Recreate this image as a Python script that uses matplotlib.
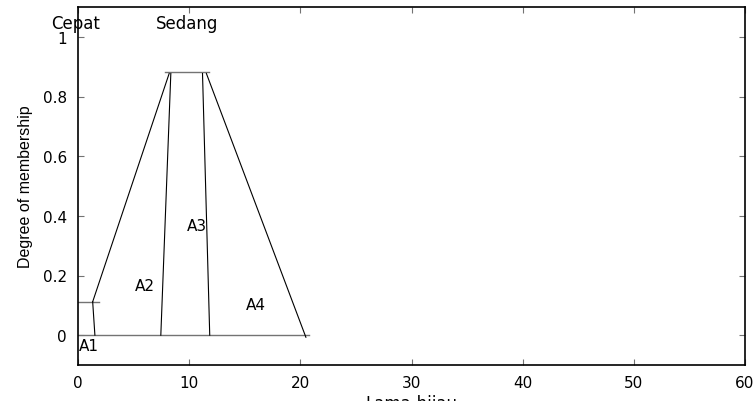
import matplotlib
matplotlib.use("Agg")
import matplotlib.pyplot as plt

# membership-function edges (x in Lama-hijau, y in degree)
top_x = [7.8, 11.8]
top_y = [0.883, 0.883]
base_x = [0.0, 20.8]
base_y = [0.0, 0.0]
a1_step_x = [0.0, 1.9]
a1_step_y = [0.112, 0.112]
a1_x = [1.32, 1.52]
a1_y = [0.112, 0.0]
left_x = [1.32, 8.2]
left_y = [0.112, 0.877]
a2_x = [7.45, 8.35]
a2_y = [0.0, 0.877]
a3_x = [11.85, 11.2]
a3_y = [0.0, 0.877]
right_x = [11.55, 20.5]
right_y = [0.877, -0.007]

region_labels = ["A1", "A2", "A3", "A4"]
region_x = [1.0, 6.0, 10.7, 16.0]
region_y = [-0.035, 0.168, 0.366, 0.104]

set_labels = ["Cepat", "Sedang"]
set_x = [-0.2, 9.8]
set_y = [1.045, 1.045]

x_ticks = [0, 10, 20, 30, 40, 50, 60]
y_ticks = [0, 0.2, 0.4, 0.6, 0.8, 1]
y_ticklabels = ["0", "0.2", "0.4", "0.6", "0.8", "1"]

plt.rcParams['font.family'] = ['DejaVu Sans']

fig = plt.figure(figsize=(7.54, 4.02), dpi=100)
ax = fig.add_axes([78 / 754, 36 / 402, 667 / 754, 358 / 402])

grey = '0.45'
for xs, ys in [(top_x, top_y), (base_x, base_y), (a1_step_x, a1_step_y)]:
    ax.plot(xs, ys, color=grey, lw=1.0)
for xs, ys in [(a1_x, a1_y), (left_x, left_y), (a2_x, a2_y), (a3_x, a3_y), (right_x, right_y)]:
    ax.plot(xs, ys, color='k', lw=0.8)

for t, x, y in zip(region_labels, region_x, region_y):
    ax.text(x, y, t, ha='center', va='center', fontsize=11)
for t, x, y in zip(set_labels, set_x, set_y):
    ax.text(x, y, t, ha='center', va='center', fontsize=12, clip_on=False)

ax.set_xlim(0, 60)
ax.set_ylim(-0.1, 1.1)
ax.set_xticks(x_ticks)
ax.set_yticks(y_ticks)
ax.set_yticklabels(y_ticklabels)
ax.tick_params(direction='in', length=4, width=0.8, color=grey,
               top=True, right=True, labelsize=11)
ax.tick_params(axis='x', pad=7)
ax.tick_params(axis='y', pad=8)
for s in ax.spines.values():
    s.set_linewidth(1.2)

ax.set_xlabel("Lama-hijau", fontsize=12, labelpad=3)
ax.set_ylabel("Degree of membership", fontsize=11.5, labelpad=7,
              family=['Liberation Sans Narrow', 'Liberation Sans'])

fig.savefig("out.png", dpi=100)
